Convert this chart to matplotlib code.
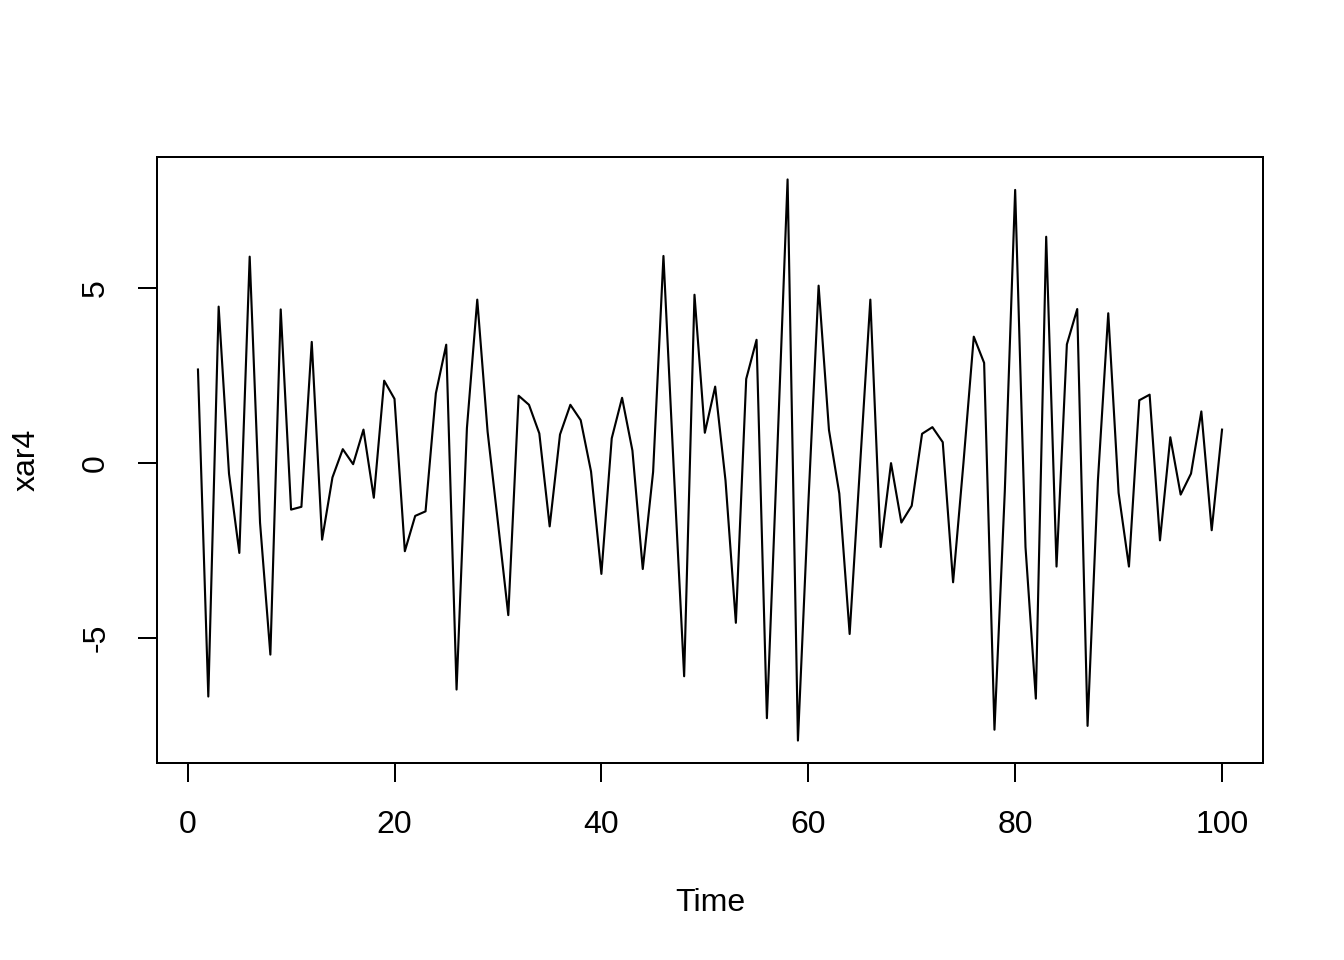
import matplotlib
matplotlib.use('Agg')
import matplotlib.pyplot as plt

plt.rcParams['font.family'] = ['Liberation Sans', 'DejaVu Sans']

# series xar4, t = 1..100
time = list(range(1, 101))
xar4 = [2.68, -6.68, 4.48, -0.30, -2.57, 5.91, -1.70, -5.48, 4.40, -1.33,
        -1.25, 3.47, -2.19, -0.41, 0.40, -0.03, 0.96, -0.99, 2.36, 1.84,
        -2.52, -1.51, -1.38, 2.00, 3.39, -6.48, 1.00, 4.68, 0.90, -1.70,
        -4.35, 1.93, 1.67, 0.85, -1.81, 0.82, 1.67, 1.23, -0.24, -3.17,
        0.71, 1.87, 0.36, -3.03, -0.25, 5.93, -0.20, -6.10, 4.82, 0.87,
        2.19, -0.50, -4.57, 2.41, 3.53, -7.30, 0.30, 8.12, -7.94, -1.20,
        5.08, 0.95, -0.87, -4.89, -0.10, 4.68, -2.40, 0.00, -1.70, -1.22,
        0.84, 1.03, 0.60, -3.41, 0.00, 3.62, 2.87, -7.63, -0.80, 7.82,
        -2.40, -6.74, 6.48, -2.96, 3.40, 4.41, -7.52, -0.50, 4.29, -0.85,
        -2.96, 1.80, 1.96, -2.21, 0.74, -0.90, -0.30, 1.48, -1.92, 0.96]
xticks = [0, 20, 40, 60, 80, 100]
yticks = [-5, 0, 5]

fig = plt.figure(figsize=(7, 5), dpi=192)
ax = fig.add_axes([157/1344, 1 - 763/960, 1106/1344, 606/960])
ax.plot(time, xar4, color='black', lw=0.8)
ax.margins(x=0.04, y=0.04)

ax.set_xticks(xticks)
ax.set_yticks(yticks)
ax.set_yticklabels([str(v) for v in yticks], rotation=90, va='center')
ax.tick_params(direction='out', length=7.2, width=0.75, labelsize=12, colors='black')
ax.tick_params(axis='x', pad=10.5)
ax.tick_params(axis='y', pad=10)
for s in ax.spines.values():
    s.set_linewidth(0.75)
    s.set_color('black')

ax.set_xlabel('Time', fontsize=12, va='center')
ax.xaxis.set_label_coords(0.5, -(903 - 763) / 606)
ax.set_ylabel('xar4', fontsize=12, va='center')
ax.yaxis.set_label_coords(-(157 - 27) / 1106, 0.5)

fig.savefig('out.png', dpi=192)
